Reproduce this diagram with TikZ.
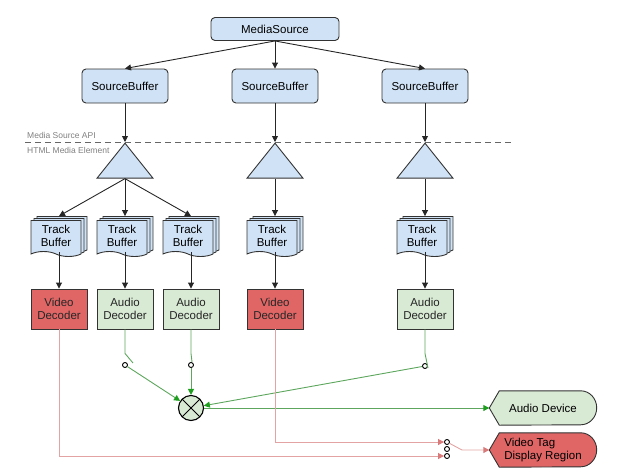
\documentclass[tikz,border=0pt]{standalone}
\usepackage{fontspec}
\setmainfont{Liberation Sans}
\usepackage{tikz}
\usetikzlibrary{arrows.meta,shapes.geometric,shapes.symbols,shadows,backgrounds}
\definecolor{boxblue}{HTML}{D0E2F5}
\definecolor{decred}{HTML}{E06666}
\definecolor{decgreen}{HTML}{D8E9D4}
\definecolor{linered}{HTML}{E3A3A3}
\definecolor{tipred}{HTML}{D97A7A}
\definecolor{linegreen}{HTML}{5DA65D}
\definecolor{tipgreen}{HTML}{1E9E1E}
\definecolor{apigray}{HTML}{808080}
\newcommand{\sinkshape}[2]{\draw[draw=black!80, line width=0.9pt, fill=#2] (#1.west) -- ([xshift=10pt]#1.north west) -- ([xshift=-16pt]#1.north east) arc[start angle=90, end angle=-90, x radius=16pt, y radius=17pt] -- ([xshift=10pt]#1.south west) -- cycle;}

\begin{document}
\begin{tikzpicture}[x=1pt,y=-1pt,font=\fontsize{11.5}{13}\selectfont]
        \tikzstyle{srcbuf} = [rectangle, rounded corners=4pt, draw=black!80, line width=0.9pt, fill=boxblue, minimum width=86pt, minimum height=34pt, inner sep=0pt]
        \tikzstyle{demux} = [isosceles triangle, shape border rotate=90, isosceles triangle stretches, draw=black!80, line width=0.9pt, fill=boxblue, minimum width=56pt, minimum height=35pt, inner sep=0pt]
        \tikzstyle{trackbuf} = [tape, tape bend top=none, tape bend bottom=out and in, draw=black!80, line width=0.9pt, fill=boxblue, minimum width=50pt, minimum height=36pt, inner sep=0pt, align=center, double copy shadow={shadow xshift=3pt, shadow yshift=2pt, fill=boxblue, draw=black!80}]
        \tikzstyle{viddec} = [rectangle, draw=black!80, line width=0.9pt, fill=decred, text=black!85, minimum width=56pt, minimum height=40pt, inner sep=0pt, align=center]
        \tikzstyle{auddec} = [viddec, fill=decgreen]
        \tikzstyle{mixer} = [circle, draw=black, line width=1.1pt, fill=decgreen, minimum size=25pt, inner sep=0pt, path picture={\draw[line width=0.9pt] (path picture bounding box.north west) -- (path picture bounding box.south east) (path picture bounding box.north east) -- (path picture bounding box.south west);}]
        \tikzstyle{contact} = [circle, draw=black, fill=white, line width=0.9pt, minimum size=5pt, inner sep=0pt]
        \tikzstyle{sink} = [minimum width=107pt, minimum height=34pt, inner sep=0pt, align=left]
        \tikzstyle{api} = [font=\fontsize{8.5}{10}\selectfont, text=apigray, inner sep=0pt]
        \tikzstyle{arr} = [draw=black!85, line width=0.9pt, -{Triangle[length=6pt,width=6pt]}]
        \tikzstyle{redline} = [draw=linered, line width=0.9pt]
        \tikzstyle{rtip} = [-{Triangle[length=6pt,width=6pt,color=tipred]}]
        \tikzstyle{greenline} = [draw=linegreen, line width=0.9pt]
        \tikzstyle{gtip} = [-{Triangle[length=6pt,width=6pt,color=tipgreen]}]
        \useasboundingbox (0,0) rectangle (618,474);
        \node[srcbuf, minimum width=128pt, minimum height=23pt] (msrc) at (275,29) {MediaSource};
        \node[srcbuf] (sb1) at (125,86) {SourceBuffer};
        \node[srcbuf] (sb2) at (275,86) {SourceBuffer};
        \node[srcbuf] (sb3) at (425,86) {SourceBuffer};
        \draw[draw=black!60, line width=1pt, dash pattern=on 6pt off 4pt] (25,142) -- (512,142);
        \node[api, anchor=base west] (apiup) at (27,138) {Media Source API};
        \node[api, anchor=base west] (apidown) at (27,153) {HTML Media Element};
        \node[demux, anchor=apex] (dm1) at (125,142) {};
        \node[demux, anchor=apex] (dm2) at (275,142) {};
        \node[demux, anchor=apex] (dm3) at (425,142) {};
        \node[trackbuf] (tb1) at (56,236) {Track\\Buffer};
        \node[trackbuf] (tb2) at (122,236) {Track\\Buffer};
        \node[trackbuf] (tb3) at (188,236) {Track\\Buffer};
        \node[trackbuf] (tb4) at (272,236) {Track\\Buffer};
        \node[trackbuf] (tb5) at (422,236) {Track\\Buffer};
        \node[viddec] (vd1) at (59,309) {Video\\Decoder};
        \node[auddec] (ad1) at (125,309) {Audio\\Decoder};
        \node[auddec] (ad2) at (191,309) {Audio\\Decoder};
        \node[viddec] (vd2) at (275,309) {Video\\Decoder};
        \node[auddec] (ad3) at (425,309) {Audio\\Decoder};
        \node[contact] (sw1) at (125,365) {};
        \node[contact] (sw2) at (191,365) {};
        \node[contact] (sw3) at (425,366) {};
        \coordinate (lev1) at (133,363);
        \coordinate (lev2) at (192,362);
        \coordinate (lev3) at (428,368);
        \node[mixer] (mix) at (191,408) {};
        \node[sink] (adev) at (543,408) {Audio Device};
        \node[sink] (vtag) at (543,450) {Video Tag\\Display Region};
        \node[contact] (vt1) at (447,442) {};
        \node[contact] (vt2) at (447,449) {};
        \node[contact] (vt3) at (447,456) {};
        \coordinate (lev4) at (462,450);
        \begin{scope}[on background layer]
        \sinkshape{adev}{decgreen}
        \sinkshape{vtag}{decred}
        \end{scope}
        \draw[arr] (msrc.south) -- (sb1.north);
        \draw[arr] (msrc.south) -- (sb2.north);
        \draw[arr] (msrc.south) -- (sb3.north);
        \draw[arr] (sb1.south) -- (dm1.apex);
        \draw[arr] (sb2.south) -- (dm2.apex);
        \draw[arr] (sb3.south) -- (dm3.apex);
        \draw[arr] (dm1.lower side) -- ([shift={(3pt,4pt)}]tb1.north);
        \draw[arr] (dm1.lower side) -- ([shift={(3pt,4pt)}]tb2.north);
        \draw[arr] (dm1.lower side) -- ([shift={(3pt,4pt)}]tb3.north);
        \draw[arr] (dm2.lower side) -- ([shift={(3pt,4pt)}]tb4.north);
        \draw[arr] (dm3.lower side) -- ([shift={(3pt,4pt)}]tb5.north);
        \draw[arr] ([xshift=3pt]tb1.south) -- (vd1.north);
        \draw[arr] ([xshift=3pt]tb2.south) -- (ad1.north);
        \draw[arr] ([xshift=3pt]tb3.south) -- (ad2.north);
        \draw[arr] ([xshift=3pt]tb4.south) -- (vd2.north);
        \draw[arr] ([xshift=3pt]tb5.south) -- (ad3.north);
        \draw[greenline] (ad1.south) -- ++(0,24) -- (lev1);
        \draw[greenline] (ad2.south) -- ++(0,24) -- (lev2);
        \draw[greenline] (ad3.south) -- ++(0,24) -- (lev3);
        \draw[greenline, gtip] (sw1) -- (mix);
        \draw[greenline, gtip] (sw2) -- (mix);
        \draw[greenline, gtip] (sw3) -- (mix);
        \draw[greenline, gtip] (mix) -- (adev.west);
        \draw[redline, rtip] (vd2.south) |- (vt1);
        \draw[redline, rtip] (vd1.south) |- (vt3);
        \draw[redline, rtip] (vt1) -- (lev4) -- (vtag.west);
\end{tikzpicture}
\end{document}
